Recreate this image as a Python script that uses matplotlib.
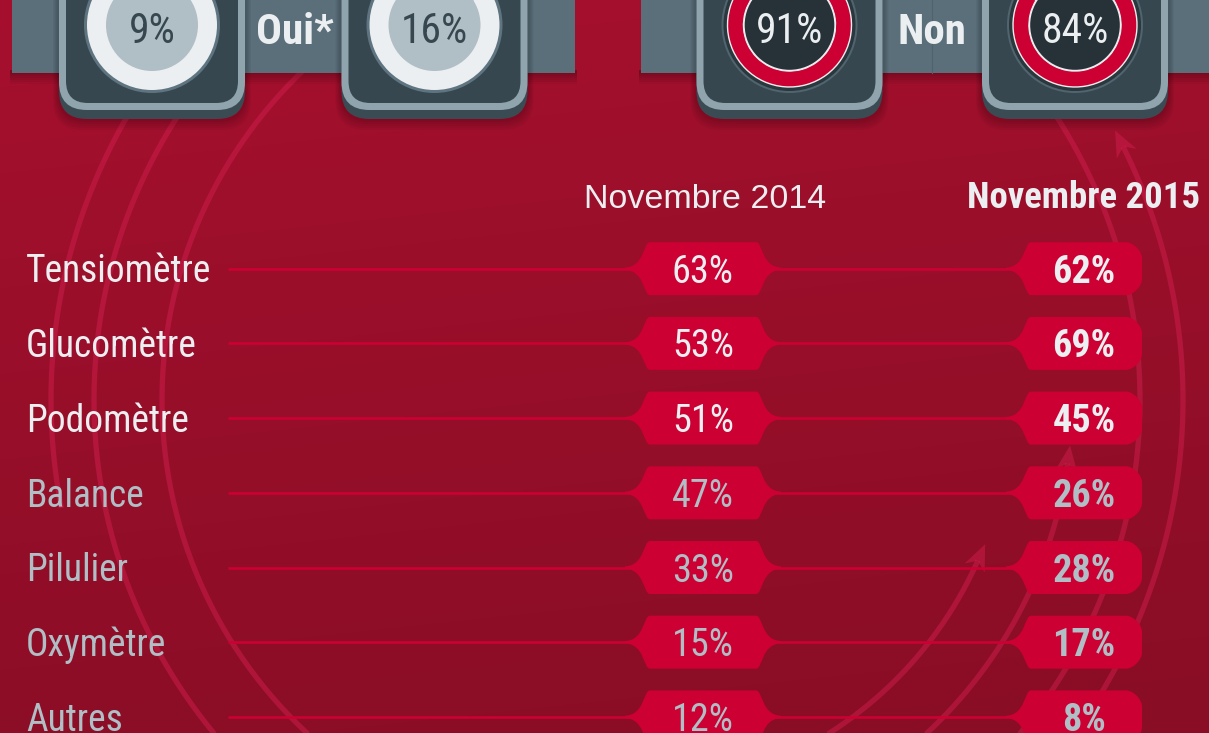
import numpy as np
import matplotlib
matplotlib.use('Agg')
import matplotlib.pyplot as plt
import matplotlib.font_manager as fm
from matplotlib.patches import FancyBboxPatch, Circle, Wedge, PathPatch, Polygon, Rectangle
from matplotlib.path import Path

# --- data ---
categories = ['Tensiomètre', 'Glucomètre', 'Podomètre', 'Balance', 'Pilulier', 'Oxymètre', 'Autres']
nov_2014 = [63, 53, 51, 47, 33, 15, 12]
nov_2015 = [62, 69, 45, 26, 28, 17, 8]
headers = ['Novembre 2014', 'Novembre 2015']
oui = [9, 16]      # 2014, 2015
non = [91, 84]     # 2014, 2015
n_highlight = 3    # first rows drawn in white

W, H = 1209, 733
RED = '#CC0033'
WHITE = '#ECEFF1'
GREY = '#B0BEC5'
ARC = '#D01E4C'

available = {f.name for f in fm.fontManager.ttflist}


def pick(*names):
    for n in names:
        if n in available:
            return n
    return 'DejaVu Sans'


NARROW = pick('Liberation Sans Narrow', 'Roboto Condensed', 'Open Sans Condensed', 'DejaVu Sans')
WIDE = pick('Liberation Sans', 'Roboto', 'DejaVu Sans')

fig = plt.figure(figsize=(W / 100, H / 100), dpi=100)
ax = fig.add_axes([0, 0, 1, 1])

# background gradient
yy = np.linspace(0, 1, 300)[:, None]
xx = np.linspace(0, 1, 300)[None, :]
t = np.clip(0.85 * yy + 0.15 * xx, 0, 1)
top = np.array([166, 16, 46]) / 255
bot = np.array([136, 13, 37]) / 255
img = top + (bot - top) * t[..., None]
ax.imshow(img, extent=(0, W, H, 0), aspect='auto', zorder=0)

# decorative arcs
cx0, cy0 = 617, 400
arcs = [(566, 140, 191, False), (523, 140, 225, False), (455, 130, 232, False),
        (523, -42, 40, False), (566, -42, 26.6, True), (455, -50, -8, True), (395, -60, -24, True)]
for r, a0, a1, arrow in arcs:
    th = np.radians(np.linspace(a0, a1, 200))
    ax.plot(cx0 + r * np.cos(th), cy0 - r * np.sin(th), color=ARC, alpha=0.5,
            lw=3.8, solid_capstyle='butt', zorder=1)
    if arrow:
        a = np.radians(a1)
        p = np.array([cx0 + r * np.cos(a), cy0 - r * np.sin(a)])
        tan = np.array([-np.sin(a), -np.cos(a)])
        nrm = np.array([tan[1], -tan[0]])
        tip = p + tan * 18
        b1 = p - tan * 8 + nrm * 11
        b2 = p - tan * 8 - nrm * 11
        ax.add_patch(Polygon([tip, b1, p, b2], closed=True, fc=ARC,
                             alpha=0.5, ec='none', zorder=1))

# banners with soft shadow
for x0, w in [(12, 563), (641, 620)]:
    for k in range(6):
        ax.add_patch(Rectangle((x0 - 2, 70), w + 4, 4 + 2 * k, fc='black', alpha=0.04,
                               ec='none', zorder=2))
    ax.add_patch(Rectangle((x0, -20), w, 93, fc='#5A6F7A', ec='none', zorder=3))
ax.plot([932, 932], [0, 73], color='#4E636E', lw=0.8, zorder=3)

# cards with donuts
card_x = [152, 434.5, 789.5, 1075]
for i, cx in enumerate(card_x):
    for k in range(5):
        ax.add_patch(FancyBboxPatch((cx - 95 - k, -60), 190 + 2 * k, 182 + 2 * k,
                                    boxstyle='round,pad=0,rounding_size=30', fc='black',
                                    alpha=0.04, ec='none', zorder=3))
    ax.add_patch(FancyBboxPatch((cx - 93, -60), 186, 179, boxstyle='round,pad=0,rounding_size=28',
                                fc='#3A4B54', ec='none', zorder=4))
    ax.add_patch(FancyBboxPatch((cx - 93, -60), 186, 170, boxstyle='round,pad=0,rounding_size=28',
                                fc='#90A4AE', ec='none', zorder=4))
    ax.add_patch(FancyBboxPatch((cx - 86, -60), 172, 163, boxstyle='round,pad=0,rounding_size=22',
                                fc='#37474F', ec='none', zorder=4))

donut_y = 25
for cx, pct in zip(card_x[:2], oui):
    ax.add_patch(Circle((cx, donut_y), 68, fc='#5E7480', ec='none', zorder=5))
    ax.add_patch(Circle((cx, donut_y), 65, fc=WHITE, ec='none', zorder=5))
    ax.add_patch(Wedge((cx, donut_y), 65, -90, -90 + 3.6 * pct, width=19, fc=RED, ec='none', zorder=5))
    ax.add_patch(Circle((cx, donut_y), 46, fc=GREY, ec='none', zorder=5))
    ax.text(cx, donut_y + 18, f'{pct}%', ha='center', va='baseline', fontsize=30,
            family=NARROW, color='#37474F', zorder=6)
for cx, pct in zip(card_x[2:], non):
    ax.add_patch(Circle((cx, donut_y), 68, fc='#50656F', ec='none', zorder=5))
    ax.add_patch(Circle((cx, donut_y), 66, fc='#2A373D', ec='none', zorder=5))
    ax.add_patch(Wedge((cx, donut_y), 62, -90, -90 + 3.6 * pct, width=16, fc=RED, ec=WHITE,
                       lw=1.0, zorder=5))
    ax.add_patch(Circle((cx, donut_y), 45.5, fc='#263238', ec=WHITE, lw=1.0, zorder=5))
    ax.text(cx, donut_y + 18, f'{pct}%', ha='center', va='baseline', fontsize=30,
            family=NARROW, color=WHITE, zorder=6)

ax.text(295, 44, 'Oui*', ha='center', va='baseline', fontsize=31, family=NARROW,
        weight='bold', color=WHITE, zorder=6)
ax.text(932, 44, 'Non', ha='center', va='baseline', fontsize=31, family=NARROW,
        weight='bold', color=WHITE, zorder=6)

# column headers
ax.text(705, 208, headers[0], ha='center', va='baseline', fontsize=24.5, family=WIDE,
        color=WHITE, zorder=6)
ax.text(1084, 208, headers[1], ha='center', va='baseline', fontsize=26.5, family=NARROW,
        weight='bold', color=WHITE, zorder=6)


def tag(xl, xr, y, h, right_flare, R=16, f=25):
    v = [(xl, y - h)]
    c = [Path.MOVETO]
    if right_flare:
        v += [(xr, y - h),
              (xr + 7, y - h), (xr + 5, y - 2), (xr + f, y - 1.2),
              (xr + f, y + 1.2),
              (xr + 5, y + 2), (xr + 7, y + h), (xr, y + h)]
        c += [Path.LINETO] + [Path.CURVE4] * 3 + [Path.LINETO] + [Path.CURVE4] * 3
    else:
        k = 0.45 * R
        v += [(xr - R, y - h),
              (xr - R + k, y - h), (xr, y - h + R - k), (xr, y - h + R),
              (xr, y + h - R),
              (xr, y + h - R + k), (xr - R + k, y + h), (xr - R, y + h)]
        c += [Path.LINETO] + [Path.CURVE4] * 3 + [Path.LINETO] + [Path.CURVE4] * 3
    v += [(xl, y + h),
          (xl - 7, y + h), (xl - 5, y + 2), (xl - f, y + 1.2),
          (xl - f, y - 1.2),
          (xl - 5, y - 2), (xl - 7, y - h), (xl, y - h),
          (xl, y - h)]
    c += [Path.LINETO] + [Path.CURVE4] * 3 + [Path.LINETO] + [Path.CURVE4] * 3 + [Path.CLOSEPOLY]
    return Path(v, c)


row0, step = 268.7, 74.7
for i, (cat, v14, v15) in enumerate(zip(categories, nov_2014, nov_2015)):
    y = row0 + step * i
    col = WHITE if i < n_highlight else GREY
    ax.plot([228, 1012], [y, y], color=RED, lw=1.9, solid_capstyle='butt', zorder=2)
    ax.add_patch(PathPatch(tag(650, 756, y, 26.5, True), fc=RED, ec='none', zorder=3))
    ax.add_patch(PathPatch(tag(1031, 1142, y, 26.5, False), fc=RED, ec='none', zorder=3))
    ax.text(26, y + 13.8, cat, ha='left', va='baseline', fontsize=27, family=NARROW,
            color=col, zorder=6)
    ax.text(703, y + 14, f'{v14}%', ha='center', va='baseline', fontsize=27.5, family=NARROW,
            color=col, zorder=6)
    ax.text(1084, y + 14, f'{v15}%', ha='center', va='baseline', fontsize=27.5, family=NARROW,
            weight='bold', color=col, zorder=6)

ax.set_xlim(0, W)
ax.set_ylim(H, 0)
ax.axis('off')
fig.savefig('out.png', dpi=100)
